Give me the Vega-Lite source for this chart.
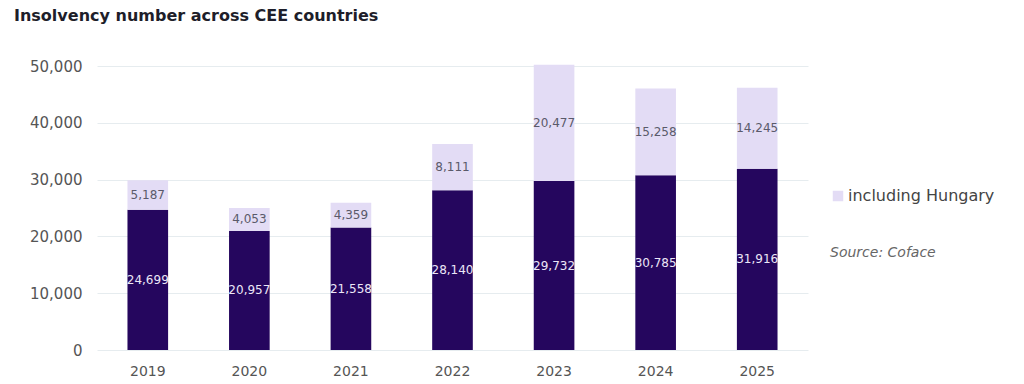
{
  "$schema": "https://vega.github.io/schema/vega-lite/v6.json",
  "width": 711,
  "height": 284,
  "autosize": {"type": "none"},
  "padding": {"left": 97, "top": 66, "right": 216, "bottom": 34},
  "background": "white",
  "config": {
    "font": "DejaVu Sans",
    "view": {"stroke": null}
  },
  "title": {
    "text": "Insolvency number across CEE countries",
    "anchor": "start",
    "frame": "group",
    "fontSize": 16,
    "fontWeight": "bold",
    "color": "#1e1e2a",
    "font": "DejaVu Sans",
    "dx": -83,
    "offset": 35
  },
  "data": {
    "values": [
      {"year": "2019", "series": "CEE excluding Hungary", "order": 1, "value": 24699},
      {"year": "2019", "series": "including Hungary", "order": 2, "value": 5187},
      {"year": "2020", "series": "CEE excluding Hungary", "order": 1, "value": 20957},
      {"year": "2020", "series": "including Hungary", "order": 2, "value": 4053},
      {"year": "2021", "series": "CEE excluding Hungary", "order": 1, "value": 21558},
      {"year": "2021", "series": "including Hungary", "order": 2, "value": 4359},
      {"year": "2022", "series": "CEE excluding Hungary", "order": 1, "value": 28140},
      {"year": "2022", "series": "including Hungary", "order": 2, "value": 8111},
      {"year": "2023", "series": "CEE excluding Hungary", "order": 1, "value": 29732},
      {"year": "2023", "series": "including Hungary", "order": 2, "value": 20477},
      {"year": "2024", "series": "CEE excluding Hungary", "order": 1, "value": 30785},
      {"year": "2024", "series": "including Hungary", "order": 2, "value": 15258},
      {"year": "2025", "series": "CEE excluding Hungary", "order": 1, "value": 31916},
      {"year": "2025", "series": "including Hungary", "order": 2, "value": 14245}
    ]
  },
  "transform": [
    {"stack": "value", "groupby": ["year"], "sort": [{"field": "order", "order": "ascending"}], "as": ["v0", "v1"]},
    {"calculate": "(datum.v0 + datum.v1) / 2", "as": "mid"}
  ],
  "encoding": {
    "x": {
      "field": "year",
      "type": "ordinal",
      "scale": {"paddingInner": 0.6, "paddingOuter": 0.3},
      "axis": {
        "title": null,
        "labelAngle": 0,
        "domain": false,
        "ticks": false,
        "labelFontSize": 14,
        "labelColor": "#555555",
        "labelPadding": 14
      }
    }
  },
  "layer": [
    {
      "mark": {"type": "bar"},
      "encoding": {
        "y": {
          "field": "v0",
          "type": "quantitative",
          "scale": {"domain": [0, 50000], "nice": false},
          "axis": {
            "title": null,
            "values": [0, 10000, 20000, 30000, 40000, 50000],
            "format": ",.0f",
            "domain": false,
            "ticks": false,
            "grid": true,
            "gridColor": "#e6ecef",
            "gridWidth": 1,
            "labelFontSize": 15,
            "labelColor": "#555555",
            "labelPadding": 15
          }
        },
        "y2": {"field": "v1"},
        "color": {
          "field": "series",
          "type": "nominal",
          "scale": {
            "domain": ["CEE excluding Hungary", "including Hungary"],
            "range": ["#25065e", "#e3dcf5"]
          },
          "legend": {
            "values": ["including Hungary"],
            "orient": "none",
            "legendX": 733,
            "legendY": 122,
            "title": "Source: Coface",
            "titleOrient": "bottom",
            "titleFontStyle": "italic",
            "titleFontWeight": "normal",
            "titleFontSize": 14,
            "titleColor": "#666666",
            "titlePadding": 42,
            "titleAnchor": "start",
            "symbolType": "square",
            "symbolSize": 110,
            "symbolStrokeWidth": 0,
            "labelFontSize": 16,
            "labelColor": "#444444",
            "labelOffset": 2
          }
        }
      }
    },
    {
      "mark": {"type": "text", "fontSize": 12, "baseline": "middle", "align": "center"},
      "encoding": {
        "y": {"field": "mid", "type": "quantitative", "axis": {"format": ",.0f"}},
        "text": {"field": "value", "type": "quantitative", "format": ","},
        "color": {
          "condition": {"test": "datum.series === 'including Hungary'", "value": "#5a5a6a"},
          "value": "#ece6f7"
        }
      }
    }
  ]
}
